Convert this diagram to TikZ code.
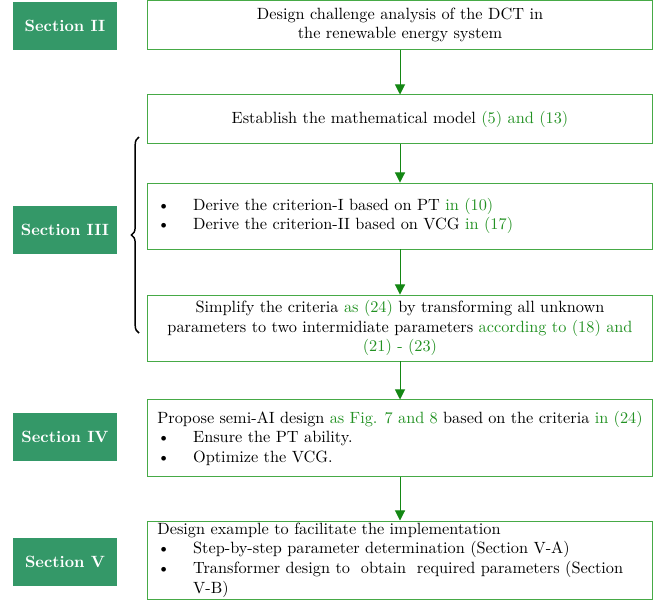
\documentclass[tikz,border=0pt]{standalone}
\usepackage{tikz}
\usetikzlibrary{arrows.meta,decorations.pathreplacing}
\definecolor{secgreen}{RGB}{52,152,104}
\definecolor{boxgreen}{RGB}{70,170,70}
\definecolor{arrgreen}{RGB}{20,135,20}
\definecolor{refgreen}{RGB}{34,145,34}
\newcommand{\eqref}[1]{\textcolor{refgreen}{#1}}
\newcommand{\bitem}[1]{\par\hangindent=22pt\hangafter=1\noindent\makebox[22pt][l]{\textbullet}#1}
\tikzset{
	secbox/.style={fill=secgreen, text=white, font=\bfseries, minimum width=63.9pt, minimum height=28.9pt, inner sep=0pt},
	stepbox/.style={draw=boxgreen, line width=0.6pt, minimum width=309.5pt, inner sep=0pt},
	flowarrow/.style={draw=arrgreen, line width=0.6pt, -{Triangle[length=6.2pt,width=6.2pt]}}
}

\begin{document}
\begin{tikzpicture}[x=0.614pt, y=-0.614pt]
			%%%%% START %%%%%
			
			\useasboundingbox (0, 0) rectangle (659, 602);
			
			\node[secbox] (sec2) at (65, 26) {Section II};
			\node[secbox] (sec3) at (65, 230) {Section III};
			\node[secbox] (sec4) at (65, 437) {Section IV};
			\node[secbox] (sec5) at (65, 562) {Section V};
			
			\node[stepbox, minimum height=29.5pt, align=center] (dca) at (400, 25)
				{Design challenge analysis of the DCT in\\the renewable energy system};
			\node[stepbox, minimum height=29.5pt] (model) at (400, 119)
				{Establish the mathematical model \eqref{(5) and (13)}};
			\node[stepbox, minimum height=40.5pt] (crit) at (400, 216)
				{\parbox{298pt}{\bitem{Derive the criterion-I based on PT \eqref{in (10)}}\bitem{Derive the criterion-II based on VCG \eqref{in (17)}}}};
			\node[stepbox, minimum height=40.5pt, align=center] (simp) at (400, 328)
				{Simplify the criteria \eqref{as (24)} by transforming all unknown\\parameters to two intermidiate parameters \eqref{according to (18) and}\\\eqref{(21) - (23)}};
			\node[stepbox, minimum height=46.7pt] (semi) at (400, 438)
				{\parbox{298pt}{\noindent Propose semi-AI design \eqref{as Fig. 7 and 8} based on the criteria \eqref{in (24)}\bitem{Ensure the PT ability.}\bitem{Optimize the VCG.}}};
			\node[stepbox, minimum height=47.9pt] (example) at (400, 560)
				{\parbox{298pt}{\noindent Design example to facilitate the implementation\bitem{Step-by-step parameter determination (Section V-A)}\bitem{Transformer design to~ obtain~ required parameters (Section\\V-B)}}};
			
			\draw[flowarrow] (dca) -- (model);
			\draw[flowarrow] (model) -- (crit);
			\draw[flowarrow] (crit) -- (simp);
			\draw[flowarrow] (simp) -- (semi);
			\draw[flowarrow] (semi) -- (example);
			
			\draw[line width=0.9pt, decorate, decoration={brace, amplitude=4.7pt}] (139, 333) -- (139, 137);
			
			%%%%% END %%%%%
\end{tikzpicture}
\end{document}
